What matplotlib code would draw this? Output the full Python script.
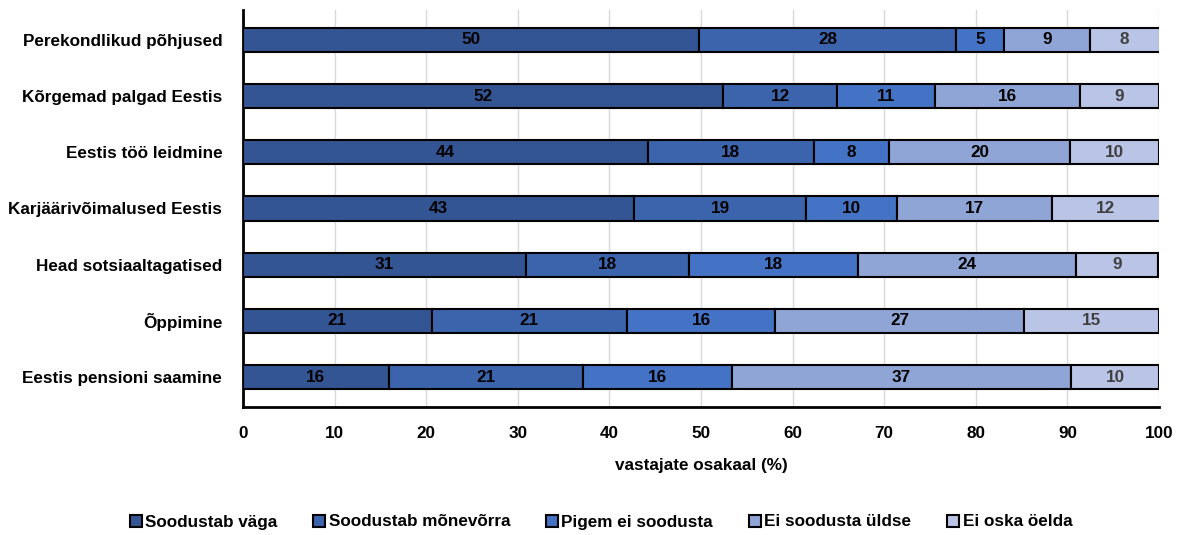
import matplotlib
matplotlib.use("Agg")
import matplotlib.pyplot as plt
from matplotlib.font_manager import FontProperties
import numpy as np

categories = ["Perekondlikud põhjused", "Kõrgemad palgad Eestis", "Eestis töö leidmine",
              "Karjäärivõimalused Eestis", "Head sotsiaaltagatised", "Õppimine",
              "Eestis pensioni saamine"]
series_names = ["Soodustab väga", "Soodustab mõnevõrra", "Pigem ei soodusta",
                "Ei soodusta üldse", "Ei oska öelda"]
soodustab_vaga = [49.8, 52.4, 44.2, 42.7, 30.9, 20.6, 15.9]
soodustab_monevorra = [28.0, 12.5, 18.1, 18.8, 17.8, 21.3, 21.2]
pigem_ei = [5.3, 10.6, 8.2, 9.9, 18.4, 16.2, 16.3]
ei_soodusta = [9.4, 15.9, 19.8, 16.9, 23.8, 27.2, 37.0]
ei_oska = [7.6, 8.6, 9.7, 12.0, 9.0, 14.7, 9.6]
xticks = [0, 10, 20, 30, 40, 50, 60, 70, 80, 90, 100]

colors = ["#335593", "#3C64AC", "#4472C4", "#8FA5D6", "#BAC4E6"]
label_colors = ["black", "black", "black", "black", "#404040"]

plt.rcParams['font.family'] = ['Liberation Sans', 'DejaVu Sans']
plt.rcParams['font.weight'] = 'bold'
FS = 12.3

fig = plt.figure(figsize=(11.81, 5.35), dpi=100)
ax = fig.add_axes([243/1181, 1-407/535, (1159-243)/1181, (407-10)/535])

data = [soodustab_vaga, soodustab_monevorra, pigem_ei, ei_soodusta, ei_oska]
y = np.arange(len(categories))
left = np.zeros(len(categories))
for vals, name, c, lc in zip(data, series_names, colors, label_colors):
    vals = np.array(vals)
    ax.barh(y, vals, left=left, height=0.43, color=c, edgecolor="black",
            linewidth=1.5, label=name, zorder=3)
    for yi, l, v in zip(y, left, vals):
        cx = min(l + v / 2, (l + 100) / 2)
        ax.text(cx, yi, f"{v:.0f}", ha="center", va="center", fontsize=FS,
                fontweight="bold", color=lc, zorder=4)
    left += vals

ax.set_xlim(0, 100)
ax.set_ylim(len(categories) - 0.47, -0.53)
ax.set_yticks(y)
ax.set_yticklabels(categories, fontsize=FS, fontweight="bold")
ax.set_xticks(xticks)
ax.set_xticklabels([str(t) for t in xticks], fontsize=FS, fontweight="bold")
ax.tick_params(axis="y", length=0, pad=15)
ax.tick_params(axis="x", length=0, pad=14)
ax.xaxis.grid(True, color="#D9D9D9", linewidth=1, zorder=0)
ax.set_axisbelow(True)
for s in ["top", "right"]:
    ax.spines[s].set_visible(False)
for s in ["left", "bottom"]:
    ax.spines[s].set_linewidth(2)
    ax.spines[s].set_color("black")
ax.set_xlabel("vastajate osakaal (%)", fontsize=FS, fontweight="bold", labelpad=12)

legend_font = FontProperties(family=["Liberation Sans", "DejaVu Sans"], weight="bold", size=FS)
fig.legend(loc="center", bbox_to_anchor=(601/1181, 1-522/535), ncol=5, frameon=False,
           prop=legend_font, handlelength=0.7, handleheight=0.7,
           handletextpad=0.2, columnspacing=2.1)

fig.savefig("out.png", dpi=100)
